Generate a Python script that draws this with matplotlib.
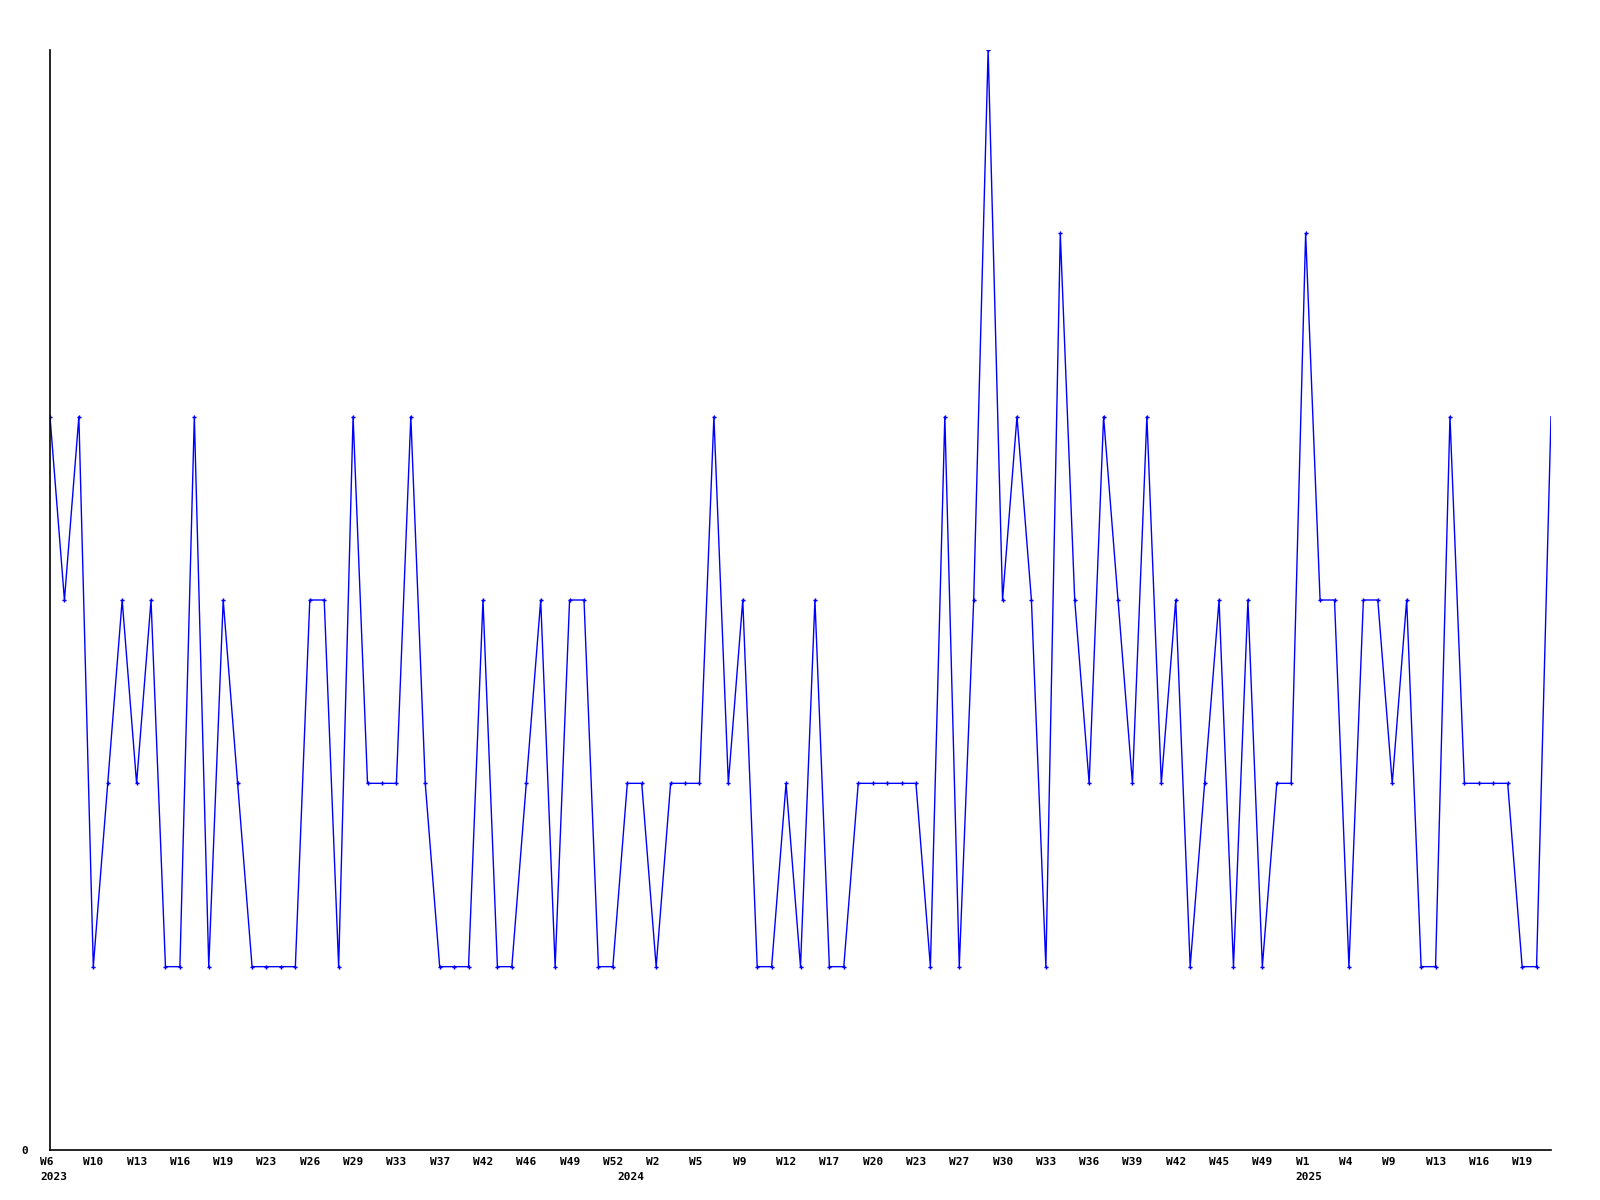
import matplotlib
matplotlib.use("Agg")
import matplotlib.pyplot as plt
import matplotlib.transforms as mtransforms

# weekly values, one per point
values = [4, 3, 4, 1, 2, 3, 2, 3, 1, 1,
          4, 1, 3, 2, 1, 1, 1, 1, 3, 3,
          1, 4, 2, 2, 2, 4, 2, 1, 1, 1,
          3, 1, 1, 2, 3, 1, 3, 3, 1, 1,
          2, 2, 1, 2, 2, 2, 4, 2, 3, 1,
          1, 2, 1, 3, 1, 1, 2, 2, 2, 2,
          2, 1, 4, 1, 3, 6, 3, 4, 3, 1,
          5, 3, 2, 4, 3, 2, 4, 2, 3, 1,
          2, 3, 1, 3, 1, 2, 2, 5, 3, 3,
          1, 3, 3, 2, 3, 1, 1, 4, 2, 2,
          2, 2, 1, 1, 4]

# labels shown under every third point
week_labels = ["W6", "W10", "W13", "W16", "W19", "W23", "W26", "W29", "W33",
               "W37", "W42", "W46", "W49", "W52", "W2", "W5", "W9", "W12",
               "W17", "W20", "W23", "W27", "W30", "W33", "W36", "W39", "W42",
               "W45", "W49", "W1", "W4", "W9", "W13", "W16", "W19"]
year_labels = ["2023", "2024", "2025"]
year_index = [0, 40, 87]

fig = plt.figure(figsize=(16, 12), dpi=100)
ax = fig.add_axes([50 / 1600, 50 / 1200, 1501 / 1600, 1100 / 1200])

x = list(range(len(values)))
ax.plot(x, values, color="#0000ff", linewidth=1)
ax.plot(x[:-1], values[:-1], linestyle="none", marker="P", markersize=3,
        color="#0000ff", markeredgewidth=0)

ax.set_xlim(0, len(values) - 1)
ax.set_ylim(0, 6)

for side in ["top", "right"]:
    ax.spines[side].set_visible(False)
for side in ["left", "bottom"]:
    ax.spines[side].set_linewidth(1.2)
    ax.spines[side].set_color("black")

font = dict(family="DejaVu Sans Mono", weight="bold", size=8)

ax.set_yticks([0])
ax.set_yticklabels(["0"], **font)
ax.tick_params(axis="y", length=0, pad=16)

ax.set_xticks([])
shift = mtransforms.ScaledTranslation(-10 / 100, 0, fig.dpi_scale_trans)
trans = mtransforms.blended_transform_factory(ax.transData, ax.transAxes) + shift
for i, lab in enumerate(week_labels):
    ax.text(i * 3, -7 / 1100, lab, transform=trans, ha="left", va="top", **font)
for i, lab in zip(year_index, year_labels):
    ax.text(i, -22 / 1100, lab, transform=trans, ha="left", va="top", **font)

fig.savefig("out.png", dpi=100, facecolor="white")
